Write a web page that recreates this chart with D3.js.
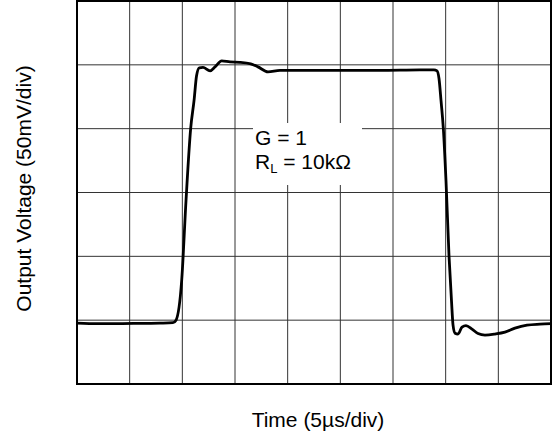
<!DOCTYPE html>
<html>
<head>
<meta charset="utf-8">
<script src="https://cdn.jsdelivr.net/npm/d3@7"></script>
<style>
    body { margin: 0; background: #fff; }
    svg { display: block; font-family: "Liberation Sans", Arial, sans-serif; }
</style>
</head>
<body>
<div id="chart"></div>
<script>
// time in µs (5 µs/div), output in mV (50 mV/div)
var timeUs = [0, 2, 4.08, 6, 7.88, 9.11, 9.40, 9.94, 10.35, 10.79, 11.11, 11.35, 11.61,
    11.96, 12.63, 13.10, 13.74, 14.53, 15.47, 16.49, 17.18, 18.13, 19.27, 21.17, 24.97,
    28.77, 32.56, 33.89, 34.18, 34.37, 34.56, 34.78, 35.03, 35.32, 35.55, 35.70, 35.89,
    36.17, 36.55, 36.93, 37.50, 38.07, 38.73, 39.68, 40.63, 41.58, 42.72, 43.96, 45];
var outputMv = [47.7, 47.3, 47.3, 47.5, 47.7, 48, 50, 81.25, 143.75, 200, 221.9, 241.4, 247.7,
    248.0, 245.3, 248.4, 253.1, 252.3, 252, 250.8, 248.4, 244.5, 245.7, 245.7, 245.7,
    245.7, 246.1, 246.1, 245.3, 239.1, 221.9, 200, 159.4, 100, 65.6, 46.1, 39.8,
    39.1, 44.5, 45.7, 43, 39.5, 38.3, 39.1, 40.6, 43.75, 46.1, 46.9, 47.3];
var xDivs = d3.range(0, 46, 5);      // 9 divisions
var yDivs = d3.range(0, 301, 50);    // 6 divisions

var margin = {top: 1, right: 1, bottom: 51, left: 77},
    width = 552 - margin.left - margin.right,
    height = 435 - margin.top - margin.bottom;

var x = d3.scaleLinear().domain([0, 45]).range([0, width]);
var y = d3.scaleLinear().domain([0, 300]).range([height, 0]);

var svg = d3.select("#chart")
    .append("svg")
        .attr("width", 552)
        .attr("height", 435)
    .append("g")
        .attr("transform", "translate(" + margin.left + "," + margin.top + ")");

// grid
svg.selectAll(".vgrid").data(xDivs).enter().append("line")
    .attr("x1", d => x(d)).attr("x2", d => x(d))
    .attr("y1", 0).attr("y2", height)
    .attr("stroke", "#333").attr("stroke-width", 1);
svg.selectAll(".hgrid").data(yDivs).enter().append("line")
    .attr("x1", 0).attr("x2", width)
    .attr("y1", d => y(d)).attr("y2", d => y(d))
    .attr("stroke", "#333").attr("stroke-width", 1);

// annotation box hides the grid behind the label
svg.append("rect")
    .attr("x", 176).attr("y", 122).attr("width", 109).attr("height", 62)
    .attr("fill", "#fff");
var note = svg.append("text").attr("x", 178).attr("y", 144)
    .style("font-size", "21px").attr("fill", "#000");
note.text("G = 1");
var note2 = svg.append("text").attr("x", 178).attr("y", 168)
    .style("font-size", "21px").attr("fill", "#000");
note2.append("tspan").text("R");
note2.append("tspan").attr("dy", 4).style("font-size", "13px").text("L");
note2.append("tspan").attr("dy", -4).text(" = 10kΩ");

// waveform
var line = d3.line()
    .x((d, i) => x(timeUs[i]))
    .y(d => y(d))
    .curve(d3.curveMonotoneX);
svg.append("path")
    .datum(outputMv)
    .attr("d", line)
    .attr("fill", "none")
    .attr("stroke", "#000")
    .attr("stroke-width", 2.8)
    .attr("stroke-linejoin", "round");

// frame
svg.append("rect")
    .attr("x", 0).attr("y", 0).attr("width", width).attr("height", height)
    .attr("fill", "none").attr("stroke", "#000").attr("stroke-width", 2);

// axis titles
svg.append("text")
    .attr("x", width / 2 + 4).attr("y", height + 43)
    .attr("text-anchor", "middle")
    .style("font-size", "21px")
    .text("Time (5µs/div)");
svg.append("text")
    .attr("transform", "translate(" + (-46) + "," + (height / 2 - 4) + ") rotate(-90)")
    .attr("text-anchor", "middle")
    .style("font-size", "21px")
    .text("Output Voltage (50mV/div)");
</script>
</body>
</html>
